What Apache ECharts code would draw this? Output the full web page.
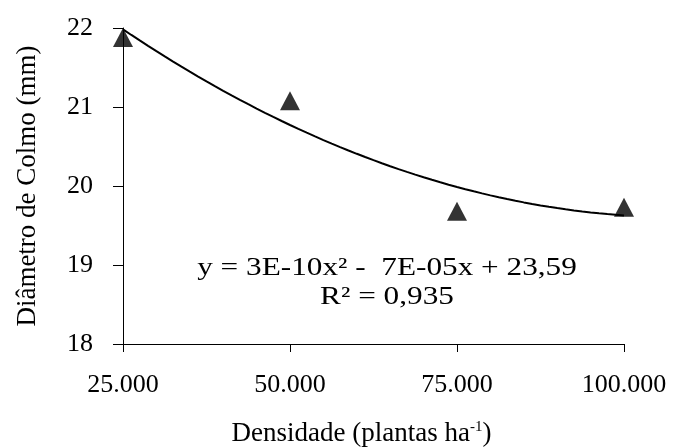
<!DOCTYPE html>
<html>
<head>
<meta charset="utf-8">
<script src="https://cdn.jsdelivr.net/npm/echarts@6/dist/echarts.min.js"></script>
<style>
  html, body { margin: 0; padding: 0; background: #fff; }
  #chart { width: 679px; height: 448px; }
</style>
</head>
<body>
<div id="chart"></div>
<script>
// Plant density (plants per hectare) and measured stem diameter (mm)
const densities = [25000, 50000, 75000, 100000];
const diameters = [21.88, 21.08, 19.68, 19.73];

// Axis ranges and tick steps
const xMin = 25000, xMax = 100000, xStep = 25000;
const yMin = 18, yMax = 22, yStep = 1;

// Regression annotation
const equationText = 'y = 3E-10x² -  7E-05x + 23,59';
const r2Text = 'R² = 0,935';

// Least-squares quadratic fit of the measured points (trendline)
function quadFit(xs, ys) {
  let s = [0, 0, 0, 0, 0], t = [0, 0, 0];
  for (let i = 0; i < xs.length; i++) {
    const u = xs[i] / 1e4;
    let p = 1;
    for (let k = 0; k < 5; k++) { s[k] += p; if (k < 3) t[k] += p * ys[i]; p *= u; }
  }
  const A = [[s[0], s[1], s[2], t[0]], [s[1], s[2], s[3], t[1]], [s[2], s[3], s[4], t[2]]];
  for (let i = 0; i < 3; i++) {
    for (let j = i + 1; j < 3; j++) {
      const f = A[j][i] / A[i][i];
      for (let k = i; k < 4; k++) A[j][k] -= f * A[i][k];
    }
  }
  const c = [0, 0, 0];
  for (let i = 2; i >= 0; i--) {
    let v = A[i][3];
    for (let k = i + 1; k < 3; k++) v -= A[i][k] * c[k];
    c[i] = v / A[i][i];
  }
  return x => { const u = x / 1e4; return c[0] + c[1] * u + c[2] * u * u; };
}
const trend = quadFit(densities, diameters);
const trendPoints = [];
for (let i = 0; i <= 60; i++) {
  const x = xMin + (xMax - xMin) * i / 60;
  trendPoints.push([x, trend(x)]);
}

const FONT = '"Liberation Serif", "Times New Roman", serif';
const fmtThousands = v => String(v).replace(/\B(?=(\d{3})+(?!\d))/g, '.');

const chart = echarts.init(document.getElementById('chart'));
chart.setOption({
  animation: false,
  backgroundColor: '#ffffff',
  grid: { left: 123, right: 55, top: 28, bottom: 104, containLabel: false, outerBoundsMode: 'none' },
  xAxis: {
    type: 'value', min: xMin, max: xMax, interval: xStep,
    name: '{n|Densidade (plantas ha}{s|-1}{n|)}',
    nameLocation: 'middle', nameGap: 76,
    nameTextStyle: {
      padding: [0, 24, 0, 0],
      rich: {
        n: { fontFamily: FONT, fontSize: 27, color: '#000' },
        s: { fontFamily: FONT, fontSize: 15, color: '#000', padding: [0, 0, 12, 0] }
      }
    },
    axisLine: { show: true, onZero: false, lineStyle: { color: '#000', width: 1 } },
    axisTick: { show: true, inside: false, length: 8, lineStyle: { color: '#000' } },
    axisLabel: { fontFamily: FONT, fontSize: 26, color: '#000', margin: 28, formatter: fmtThousands },
    splitLine: { show: false }
  },
  yAxis: {
    type: 'value', min: yMin, max: yMax, interval: yStep,
    name: 'Diâmetro de Colmo (mm)',
    nameLocation: 'middle', nameGap: 82, nameRotate: 90,
    nameTextStyle: { fontFamily: FONT, fontSize: 27, color: '#000' },
    axisLine: { show: true, onZero: false, lineStyle: { color: '#000', width: 1 } },
    axisTick: { show: true, inside: false, length: 10, lineStyle: { color: '#000' } },
    axisLabel: { fontFamily: FONT, fontSize: 26, color: '#000', margin: 30 },
    splitLine: { show: false }
  },
  series: [
    {
      type: 'line', data: trendPoints, showSymbol: false, smooth: false,
      lineStyle: { color: '#000', width: 2 }, silent: true, z: 2
    },
    {
      type: 'scatter', data: densities.map((x, i) => [x, diameters[i]]),
      symbol: 'triangle', symbolSize: [20, 19],
      itemStyle: { color: '#000' }, z: 3
    }
  ],
  graphic: [
    {
      type: 'text', x: 387, y: 283, scaleX: 1.25,
      style: {
        text: equationText + '\n' + r2Text,
        font: '25px ' + FONT, fill: '#000', align: 'center', verticalAlign: 'middle',
        lineHeight: 29
      }
    }
  ]
});
</script>
</body>
</html>
